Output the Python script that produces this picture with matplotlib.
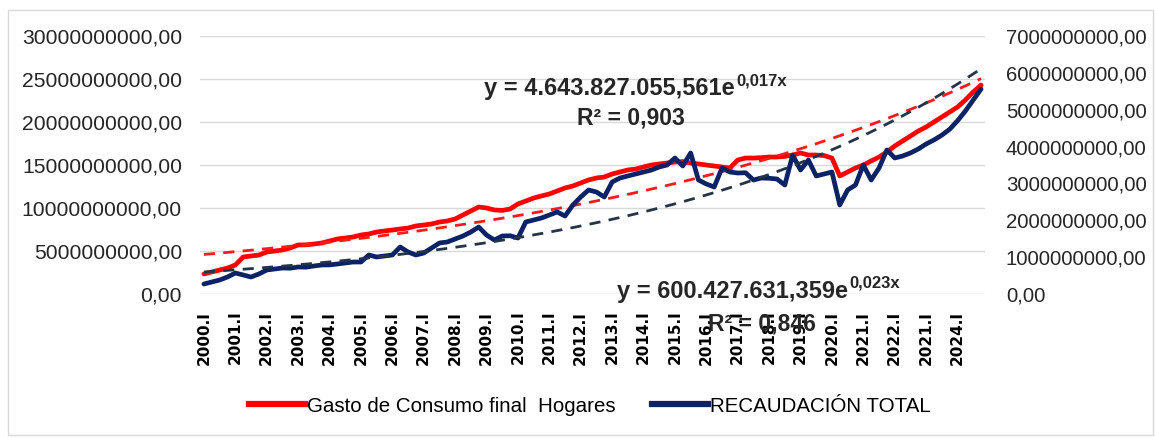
import numpy as np
import matplotlib.pyplot as plt
from matplotlib.lines import Line2D
from matplotlib.patches import Rectangle

# quarterly categories 2000.I .. 2024.IV (the 2023 label reads "2021" in the source)
years = [str(y) for y in range(2000, 2025)]
years[23] = "2021"
quarters = ["I", "II", "III", "IV"]
categories = [f"{y}.{q}" for y in years for q in quarters]

# Gasto de Consumo final Hogares (left axis), in 1e9
gasto = [2.33, 2.56, 2.79, 3.02, 3.37, 4.30, 4.42, 4.53, 4.88, 5.00,
         5.12, 5.35, 5.70, 5.72, 5.81, 5.93, 6.16, 6.40, 6.51, 6.63,
         6.86, 6.98, 7.21, 7.33, 7.44, 7.56, 7.67, 7.91, 8.02, 8.14,
         8.37, 8.49, 8.72, 9.19, 9.65, 10.12, 10.00, 9.77, 9.72, 9.88,
         10.47, 10.81, 11.16, 11.40, 11.63, 11.98, 12.33, 12.56, 12.91, 13.26,
         13.49, 13.60, 13.95, 14.19, 14.42, 14.53, 14.77, 15.00, 15.12, 15.23,
         15.35, 15.40, 15.23, 15.12, 15.00, 14.88, 14.77, 14.65, 15.58, 15.81,
         15.81, 15.85, 15.93, 15.93, 16.00, 16.16, 16.40, 16.16, 16.16, 16.10,
         15.81, 13.72, 14.19, 14.65, 15.00, 15.47, 15.93, 16.51, 17.21, 17.79,
         18.37, 18.95, 19.42, 20.00, 20.58, 21.16, 21.74, 22.56, 23.49, 24.30]

# RECAUDACIÓN TOTAL (right axis), in 1e9
recaudacion = [0.271, 0.326, 0.380, 0.461, 0.570, 0.516, 0.461, 0.543, 0.651, 0.678,
               0.705, 0.700, 0.733, 0.728, 0.760, 0.787, 0.790, 0.814, 0.841, 0.868,
               0.868, 1.058, 1.004, 1.031, 1.058, 1.275, 1.140, 1.058, 1.112, 1.248,
               1.384, 1.411, 1.492, 1.574, 1.682, 1.818, 1.601, 1.465, 1.574, 1.580,
               1.519, 1.954, 2.008, 2.062, 2.143, 2.225, 2.116, 2.415, 2.632, 2.822,
               2.767, 2.632, 3.039, 3.147, 3.202, 3.256, 3.310, 3.364, 3.446, 3.500,
               3.690, 3.473, 3.826, 3.093, 2.985, 2.903, 3.419, 3.310, 3.283, 3.290,
               3.093, 3.147, 3.140, 3.120, 2.957, 3.771, 3.364, 3.636, 3.202, 3.256,
               3.310, 2.415, 2.822, 2.957, 3.500, 3.093, 3.419, 3.907, 3.690, 3.744,
               3.826, 3.934, 4.070, 4.180, 4.310, 4.470, 4.700, 4.965, 5.264, 5.562]

gasto = np.array(gasto) * 1e9
recaudacion = np.array(recaudacion) * 1e9
x = np.arange(len(categories))

# exponential trend lines (as Excel, x = 1..n)
xt = x + 1
b1, a1 = np.polyfit(xt, np.log(gasto), 1)
b2, a2 = np.polyfit(xt, np.log(recaudacion), 1)
trend_gasto = np.exp(a1) * np.exp(b1 * xt)
trend_rec = np.exp(a2) * np.exp(b2 * xt)

plt.rcParams['font.family'] = ['Liberation Sans', 'DejaVu Sans']

fig = plt.figure(figsize=(11.55, 4.38), dpi=100)
fig.patches.append(Rectangle((8 / 1155, 3 / 438), 1145 / 1155, 425 / 438,
                             transform=fig.transFigure, fill=False,
                             edgecolor='#d9d9d9', lw=1))
ax = fig.add_axes([200 / 1155, 1 - 294 / 438, 785 / 1155, 258 / 438])
ax2 = ax.twinx()

ax.plot(x, gasto, color='#ff0000', lw=3.4, solid_capstyle='round')
ax.plot(x, trend_gasto, color='#ff1a1a', lw=2.0, ls=(0, (4, 3)))
ax2.plot(x, recaudacion, color='#0b2265', lw=3.4, solid_capstyle='round')
ax2.plot(x, trend_rec, color='#253446', lw=2.0, ls=(0, (4, 3)))

ax.set_xlim(-0.5, len(x) - 0.5)
ax.set_ylim(0, 30e9)
ax2.set_ylim(0, 7e9)
ax.set_yticks(np.arange(0, 30e9 + 1, 5e9))
ax2.set_yticks(np.arange(0, 7e9 + 1, 1e9))
fmt = lambda v, p: f"{v:.2f}".replace('.', ',')
ax.yaxis.set_major_formatter(fmt)
ax2.yaxis.set_major_formatter(fmt)

ax.set_xticks(x[::4])
ax.set_xticklabels([categories[i] for i in x[::4]], rotation=90,
                   fontsize=11, fontweight='bold', family='DejaVu Sans')
ax.tick_params(axis='x', length=0, pad=12)
ax.tick_params(axis='y', length=0, pad=13, labelsize=15.2, labelcolor='#262626')
ax2.tick_params(axis='y', length=0, pad=15, labelsize=14.7, labelcolor='#262626')

ax.yaxis.grid(True, color='#d9d9d9', lw=1)
ax.set_axisbelow(True)
for a in (ax, ax2):
    for s in a.spines.values():
        s.set_visible(False)

# trend line equations
W, H = 1155, 438
def eq(xe, yb, main, sup):
    fig.text(xe / W, 1 - yb / H, main, ha='right', va='baseline',
             fontsize=17, fontweight='bold', color='#262626')
    fig.text((xe + 1) / W, 1 - (yb - 10) / H, sup, ha='left', va='baseline',
             fontsize=12, fontweight='bold', color='#262626')

eq(735, 95, "y = 4.643.827.055,561e", "0,017x")
fig.text(631 / W, 1 - 125 / H, "R² = 0,903", ha='center', va='baseline',
         fontsize=16.5, fontweight='bold', color='#262626')
eq(848, 298, "y = 600.427.631,359e", "0,023x")
fig.text(762 / W, 1 - 331 / H, "R² = 0,846", ha='center', va='baseline',
         fontsize=16.5, fontweight='bold', color='#262626')

handles = [Line2D([], [], color='#ff0000', lw=4.5),
           Line2D([], [], color='#0b2265', lw=4.5)]
fig.legend(handles, ["Gasto de Consumo final  Hogares", "RECAUDACIÓN TOTAL"],
           loc='center', bbox_to_anchor=(590 / W, 1 - 406 / H), ncol=2,
           frameon=False, fontsize=14.8, handlelength=2.7, handletextpad=0.1,
           columnspacing=1.8)

fig.savefig('out.png', dpi=100)
